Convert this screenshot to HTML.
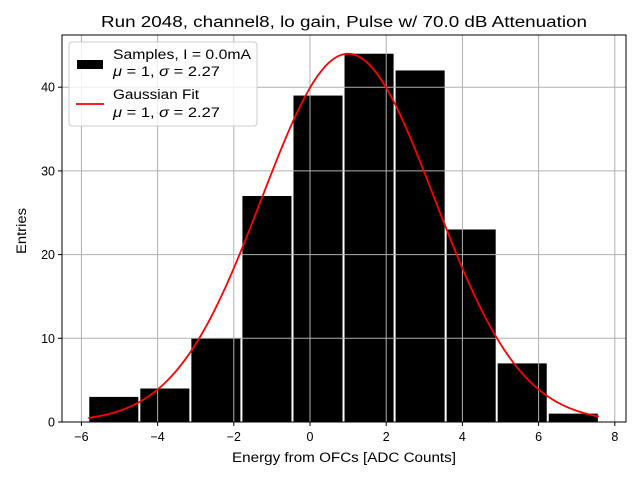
<!DOCTYPE html>
<html><head><meta charset="utf-8"><style>
body{margin:0;background:#fff;}
svg text{font-family:"Liberation Sans","DejaVu Sans",sans-serif;}
</style></head><body>
<svg id="chart" width="640" height="480" xmlns="http://www.w3.org/2000/svg">
<rect width="640" height="480" fill="#fff"/>
<text x="101" y="27" font-size="15.5" textLength="486" lengthAdjust="spacingAndGlyphs">Run 2048, channel8, lo gain, Pulse w/ 70.0 dB Attenuation</text>
<g id="bars"></g>
<g id="grid"></g>
<path id="fit" fill="none" stroke="#f00" stroke-width="1.8"/>
<rect x="62" y="35" width="564" height="387" fill="none" stroke="#000" stroke-width="1"/>
<g id="xticks"></g>
<g id="yticks"></g>
<text x="232" y="462" font-size="13.5" textLength="224" lengthAdjust="spacingAndGlyphs">Energy from OFCs [ADC Counts]</text>
<text transform="translate(26,254) rotate(-90)" font-size="13.5" textLength="46" lengthAdjust="spacingAndGlyphs">Entries</text>
<g>
<rect x="69" y="42" width="188" height="84" rx="3" fill="#fff" fill-opacity="0.8" stroke="#ccc"/>
<rect x="77" y="60" width="26" height="9" fill="#000"/>
<text x="113" y="59" font-size="13.5" textLength="138" lengthAdjust="spacingAndGlyphs">Samples, I = 0.0mA</text>
<text x="113" y="76" font-size="13.5" textLength="107" lengthAdjust="spacingAndGlyphs"><tspan font-style="italic">μ</tspan> = 1, <tspan font-style="italic">σ</tspan> = 2.27</text>
<line x1="76" y1="104" x2="104" y2="104" stroke="#f00" stroke-width="1.8"/>
<text x="113" y="99" font-size="13.5" textLength="86" lengthAdjust="spacingAndGlyphs">Gaussian Fit</text>
<text x="113" y="117" font-size="13.5" textLength="107" lengthAdjust="spacingAndGlyphs"><tspan font-style="italic">μ</tspan> = 1, <tspan font-style="italic">σ</tspan> = 2.27</text>
</g>
</svg>
<script>
const binStart = -5.82;
const binWidth = 1.34;
const counts = [3, 4, 10, 27, 39, 44, 42, 23, 7, 1];
const fitMu = 1;
const fitSigma = 2.27;
const fitAmp = 44;
const xTicks = [-6, -4, -2, 0, 2, 4, 6, 8];
const yTicks = [0, 10, 20, 30, 40];
const NS = "http://www.w3.org/2000/svg";
const X = v => 310 + (v) * 38.1;
const Y = v => 422 - v * 8.37;
function mk(t, a, p){const e=document.createElementNS(NS,t);for(const k in a)e.setAttribute(k,a[k]);p.appendChild(e);return e;}
const bars=document.getElementById('bars');
counts.forEach((c,i)=>{
  const x0=X(binStart+i*binWidth), x1=X(binStart+(i+1)*binWidth);
  const r=mk('rect',{x:x0+1,y:Y(c),width:x1-x0-2,height:Y(0)-Y(c),fill:'#000'},bars);
  
  
});
const grid=document.getElementById('grid'), xt=document.getElementById('xticks'), yt=document.getElementById('yticks');
xTicks.forEach(v=>{
  const gl=mk('line',{x1:X(v),x2:X(v),y1:35,y2:422,stroke:'#b0b0b0','stroke-width':1},grid);
  
  
  mk('line',{x1:X(v),x2:X(v),y1:422,y2:426,stroke:'#000'},xt);
  const t=mk('text',{x:X(v),y:441,'font-size':12.5,'text-anchor':'middle'},xt);
  t.textContent=v<0?'\u2212'+(-v):String(v);
  
  
});
yTicks.forEach(v=>{
  const gl=mk('line',{x1:62,x2:626,y1:Y(v),y2:Y(v),stroke:'#b0b0b0','stroke-width':1},grid);
  
  
  mk('line',{x1:58,x2:62,y1:Y(v),y2:Y(v),stroke:'#000'},yt);
  const t=mk('text',{x:55,y:Y(v)+4.5,'font-size':12.5,'text-anchor':'end'},yt);
  t.textContent=String(v);
  
  
});
let d='';
const xa=binStart, xb=binStart+counts.length*binWidth;
for(let i=0;i<=200;i++){
  const x=xa+(xb-xa)*i/200;
  const y=fitAmp*Math.exp(-((x-fitMu)**2)/(2*fitSigma*fitSigma));
  d+=(i?'L':'M')+X(x).toFixed(2)+' '+Y(y).toFixed(2);
}
document.getElementById('fit').setAttribute('d',d);
</script>
</body></html>
